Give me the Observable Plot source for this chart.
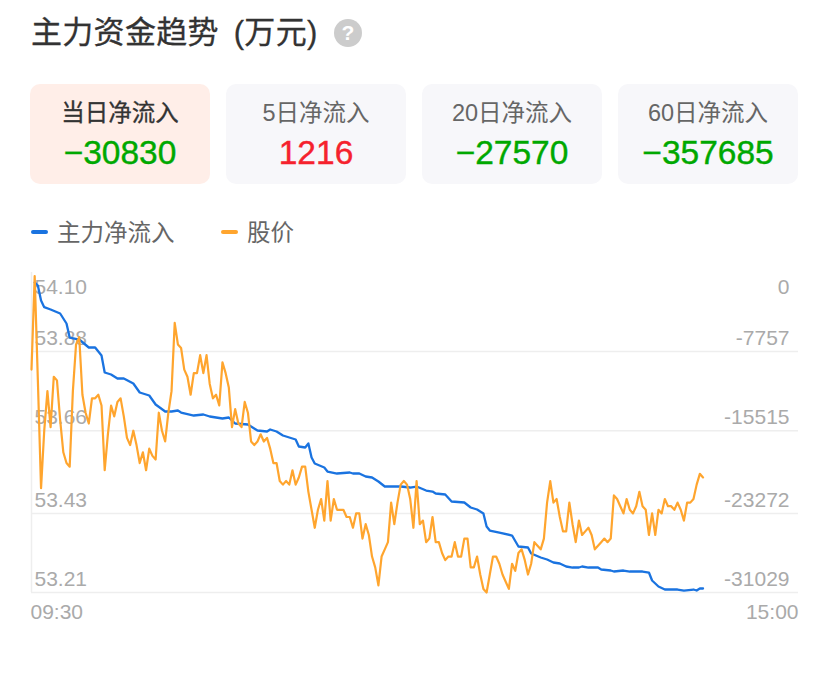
<!DOCTYPE html>
<html><head><meta charset="utf-8">
<script src="https://cdn.jsdelivr.net/npm/d3@7"></script>
<script src="https://cdn.jsdelivr.net/npm/@observablehq/plot@0.6"></script>
<style>
html,body{margin:0;padding:0;background:#fff;width:828px;height:696px;overflow:hidden;font-family:"Liberation Sans","Noto Sans CJK SC",sans-serif}
.abs{position:absolute;white-space:nowrap}
.title{left:31px;top:12px;font-size:31px;line-height:42px;color:#333;letter-spacing:.3px;word-spacing:6px;-webkit-text-stroke:.3px #333}
.help{left:334px;top:19px;width:28px;height:28px;border-radius:50%;background:#ccc;color:#fff;font-size:21px;font-weight:700;line-height:28px;text-align:center}
.card{top:84px;width:180px;height:100px;border-radius:10px;background:#f7f7fa;text-align:center}
.card.on{background:#ffeee8}
.card .l{position:absolute;left:0;right:0;top:12px;font-size:23.5px;line-height:34px;color:#666}
.card.on .l{color:#333;-webkit-text-stroke:.3px #333}
.card .v{position:absolute;left:0;right:0;top:47px;font-size:33.5px;line-height:44px;-webkit-text-stroke:.4px currentColor}
.dash{height:4px;width:17px;border-radius:2px;top:230px}
.leg{top:216px;font-size:23.5px;line-height:34px;color:#666}
#chart{position:absolute;left:0;top:260px}
</style></head><body>
<div class="abs title">主力资金趋势 (万元)</div>
<div class="abs help">?</div>
<div id="cards"></div>
<div id="legend"></div>
<div id="chart"></div>
<script>
const cardLabels = ["当日净流入","5日净流入","20日净流入","60日净流入"];
const cardValues = ["−30830","1216","−27570","−357685"];
const cardColors = ["#00a800","#f5222d","#00a800","#00a800"];
const seriesNames = ["主力净流入","股价"];
const seriesColors = ["#1a73e0","#ffa52e"];
const priceTicks = [54.10,53.88,53.66,53.43,53.21];
const flowTicks = [0,-7757,-15515,-23272,-31029];
const timeLabels = ["09:30","15:00"];
const timeMinutes = [0,241];

const prices = [53.83,54.09,53.80,53.50,53.66,53.77,53.67,53.81,53.80,53.69,
53.60,53.57,53.56,53.77,53.90,53.92,53.76,53.71,53.68,53.75,
53.75,53.76,53.73,53.55,53.65,53.73,53.70,53.74,53.75,53.70,
53.64,53.62,53.66,53.62,53.57,53.60,53.55,53.61,53.59,53.58,
53.71,53.66,53.63,53.71,53.77,53.96,53.90,53.89,53.83,53.81,
53.76,53.82,53.82,53.87,53.82,53.87,53.79,53.75,53.76,53.73,
53.85,53.82,53.78,53.67,53.72,53.68,53.67,53.74,53.71,53.63,
53.62,53.63,53.65,53.63,53.64,53.61,53.57,53.57,53.52,53.51,
53.52,53.51,53.55,53.51,53.53,53.56,53.56,53.49,53.44,53.39,
53.44,53.47,53.41,53.52,53.41,53.47,53.44,53.44,53.44,53.42,
53.42,53.39,53.43,53.43,53.36,53.40,53.37,53.31,53.28,53.23,
53.31,53.33,53.35,53.46,53.40,53.46,53.51,53.52,53.51,53.47,
53.39,53.52,53.40,53.41,53.35,53.36,53.42,53.35,53.35,53.32,
53.30,53.31,53.31,53.35,53.31,53.31,53.36,53.36,53.28,53.28,
53.31,53.26,53.22,53.21,53.26,53.31,53.31,53.29,53.26,53.24,
53.22,53.29,53.27,53.32,53.33,53.30,53.26,53.29,53.35,53.34,
53.33,53.36,53.46,53.52,53.46,53.47,53.42,53.38,53.38,53.46,
53.40,53.35,53.41,53.37,53.38,53.39,53.37,53.33,53.34,53.35,
53.36,53.35,53.36,53.48,53.47,53.45,53.43,53.47,53.44,53.43,
53.45,53.49,53.45,53.44,53.37,53.43,53.37,53.44,53.43,53.47,
53.45,53.45,53.44,53.46,53.44,53.41,53.46,53.46,53.47,53.51,
53.54,53.53];

const flowMinutes = [1,2,3,4,6,9,11,12,15,18,20,22,23,25,27,29,32,34,37,39,42,44,46,47,51,54,56,60,62,64,68,71,74,75,77,79,83,84,86,87,88,89,92,93,96,100,101,103,105,107,109,111,116,119,121,124,126,127,130,132,136,138,140,142,143,144,147,151,153,156,157,160,162,164,166,168,170,172,173,175,178,179,182,183,186,188,192,194,195,197,199,203,205,208,209,210,211];
const flowValues = [-970,-1261,-2715,-3365,-3588,-3976,-4945,-6303,-6497,-7273,-7273,-8049,-9697,-9891,-10279,-10279,-10764,-11636,-11927,-12800,-13479,-13479,-13382,-13576,-13867,-13770,-13964,-14158,-14061,-14642,-14739,-15321,-15418,-15224,-15418,-15806,-16194,-16873,-16970,-16582,-17939,-18521,-18909,-19297,-19491,-19394,-19491,-19491,-19782,-19879,-20267,-20752,-20752,-20849,-20752,-21140,-21237,-21431,-21528,-22206,-22303,-22788,-22982,-23370,-24630,-25018,-25212,-25503,-26570,-26667,-27249,-27636,-27830,-28121,-28218,-28509,-28606,-28606,-28509,-28606,-28606,-28800,-28897,-28994,-28897,-28994,-28994,-29091,-29867,-30449,-30740,-30740,-30837,-30740,-30837,-30643,-30643];

const cards = document.getElementById("cards");
cardLabels.forEach((t,i)=>{
  const c=document.createElement("div");
  c.className="abs card"+(i===0?" on":"");
  c.style.left=(30+196*i)+"px";
  c.innerHTML=`<div class="l">${t}</div><div class="v" style="color:${cardColors[i]}">${cardValues[i]}</div>`;
  cards.appendChild(c);
});
const legend=document.getElementById("legend");
[[31,57],[221,247]].forEach(([a,b],i)=>{
  legend.insertAdjacentHTML("beforeend",`<div class="abs dash" style="left:${a}px;background:${seriesColors[i]}"></div><div class="abs leg" style="left:${b}px">${seriesNames[i]}</div>`);
});

// second (right-hand) axis mapped onto the price scale
const flowToPrice = d3.scaleLinear([flowTicks[0],flowTicks[4]],[priceTicks[0],priceTicks[4]]);
const rows = priceTicks.map((p,i)=>({p,left:p.toFixed(2),right:String(flowTicks[i]),top:i===0}));
const flow = flowMinutes.map((m,i)=>({m,v:flowValues[i]}));
const lab = {fill:"#aaa",fontSize:21,lineAnchor:"middle"};

const plot = Plot.plot({
  width:828,height:370,
  marginLeft:31,marginRight:30,marginTop:12,marginBottom:38,
  style:{background:"transparent",fontFamily:'"Liberation Sans","Noto Sans CJK SC",sans-serif'},
  x:{domain:[timeMinutes[0],timeMinutes[1]],axis:null},
  y:{domain:[priceTicks[4],priceTicks[0]],axis:null},
  marks:[
    Plot.ruleY(priceTicks.slice(1),{stroke:"#eee",strokeWidth:1.5}),
    Plot.ruleX([0],{stroke:"#eee",strokeWidth:1.5}),
    Plot.text(rows.filter(d=>d.top),{x:0,y:"p",text:"left",textAnchor:"start",dx:3,dy:15,...lab}),
    Plot.text(rows.filter(d=>!d.top),{x:0,y:"p",text:"left",textAnchor:"start",dx:3,dy:-13,...lab}),
    Plot.text(rows.filter(d=>d.top),{x:timeMinutes[1],y:"p",text:"right",textAnchor:"end",dx:-9,dy:15,...lab}),
    Plot.text(rows.filter(d=>!d.top),{x:timeMinutes[1],y:"p",text:"right",textAnchor:"end",dx:-9,dy:-13,...lab}),
    Plot.line(flow,{x:"m",y:d=>flowToPrice(d.v),stroke:seriesColors[0],strokeWidth:2.3}),
    Plot.line(prices,{x:(d,i)=>i,y:d=>d,stroke:seriesColors[1],strokeWidth:2.2}),
    Plot.text([0],{x:timeMinutes[0],y:priceTicks[4],text:()=>timeLabels[0],textAnchor:"start",dx:-1,dy:20,...lab}),
    Plot.text([0],{x:timeMinutes[1],y:priceTicks[4],text:()=>timeLabels[1],textAnchor:"end",dy:20,...lab})
  ]
});
document.getElementById("chart").appendChild(plot);
</script>
</body></html>
